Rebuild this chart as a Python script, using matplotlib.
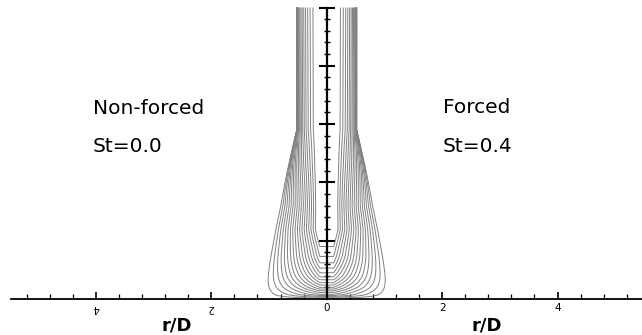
import numpy as np
import matplotlib
matplotlib.use("Agg")
import matplotlib.pyplot as plt
from matplotlib.ticker import FixedLocator, FixedFormatter

# ---- data ----
levels = [0.05, 0.10, 0.15, 0.20, 0.25, 0.30, 0.35, 0.40, 0.45,
          0.50, 0.55, 0.60, 0.65, 0.70, 0.75, 0.80, 0.85, 0.90]
# height (y/D) where each level's U-shaped contour closes on the axis
u_bottom_y = [0.015, 0.03, 0.045, 0.06, 0.08, 0.11, 0.14, 0.17, 0.20,
              0.24, 0.28, 0.33, 0.38, 0.45, 0.53, 0.62, 0.73, 0.90]
# outer edge of the jet (r/D) vs height
edge_y = [0.0, 0.3, 2.9, 5.0]
edge_r = [1.20, 1.14, 0.52, 0.52]
# inner (core) edge
core_r = 0.12
# profile shape exponent vs height
shape_y = [0.0, 1.6, 2.3, 2.9, 5.0]
shape_p = [1.2, 1.0, 0.6, 0.32, 0.30]

xtick_pos = [-4, -2, 0, 2, 4]
xtick_lab = ["4", "2", "0", "2", "4"]

# ---- figure ----
W_PX, H_PX = 642, 335
fig = plt.figure(figsize=(W_PX / 100, H_PX / 100), dpi=100)
sx = 57.7   # px per unit, horizontal
sy = 58.3   # px per unit, vertical
x0_px = 326.7
ybase_px = 299
ytop = 5.05
ax = fig.add_axes([0, (H_PX - ybase_px) / H_PX, 1, ytop * sy / H_PX])
ax.set_xlim(-x0_px / sx, (W_PX - x0_px) / sx)
ax.set_ylim(0, ytop)

# field
r = np.linspace(-1.7, 1.7, 1201)
y = np.linspace(0, 5.0, 801)
R, Y = np.meshgrid(r, y)
b = np.interp(Y, edge_y, edge_r)
p = np.interp(Y, shape_y, shape_p)
s = np.clip((np.abs(R) - core_r) / (b - core_r), 0, 1)
P = (1 - s) ** p
Wf = np.interp(Y, [0.0] + u_bottom_y + [1.2], [0.0] + levels + [1.0])
F = Wf * P
ax.contour(R, Y, F, levels=levels, colors="0.5", linewidths=0.7)

# spines
for sp in ["top", "right"]:
    ax.spines[sp].set_visible(False)
ax.spines["left"].set_position(("data", 0))
ax.spines["left"].set_bounds(0, 5)
ax.spines["left"].set_linewidth(1.6)
ax.spines["bottom"].set_bounds(-5.47, (W_PX - x0_px) / sx)
ax.spines["bottom"].set_linewidth(1.3)

ax.yaxis.set_major_locator(FixedLocator([1, 2, 3, 4, 5]))
ax.yaxis.set_minor_locator(FixedLocator([v / 5 for v in range(1, 25) if v % 5]))
ax.tick_params(axis="y", which="major", direction="inout", length=11.5, width=1.5, labelleft=False)
ax.tick_params(axis="y", which="minor", direction="inout", length=5, width=1.0)

ax.xaxis.set_major_locator(FixedLocator(xtick_pos))
ax.xaxis.set_major_formatter(FixedFormatter(xtick_lab))
ax.xaxis.set_minor_locator(FixedLocator([k * 0.4 for k in range(-13, 14) if k % 5]))
ax.tick_params(axis="x", which="major", direction="in", length=5, width=1.2,
               labelsize=7.5, pad=3)
ax.tick_params(axis="x", which="minor", direction="in", length=3.3, width=0.9)
for v, lab in zip(xtick_pos, ax.get_xticklabels()):
    if v < 0:
        lab.set_rotation(180)

# texts
fs = 14.5
fig.text(93 / W_PX, (H_PX - 114) / H_PX, "Non-forced", fontsize=fs, va="baseline", ha="left")
fig.text(93 / W_PX, (H_PX - 152) / H_PX, "St=0.0", fontsize=fs, va="baseline", ha="left")
fig.text(443 / W_PX, (H_PX - 113) / H_PX, "Forced", fontsize=fs, va="baseline", ha="left")
fig.text(443 / W_PX, (H_PX - 152) / H_PX, "St=0.4", fontsize=fs, va="baseline", ha="left")
fig.text(177 / W_PX, (H_PX - 325) / H_PX, "r/D", fontsize=13, fontweight="bold", ha="center", va="center")
fig.text(487 / W_PX, (H_PX - 325) / H_PX, "r/D", fontsize=13, fontweight="bold", ha="center", va="center")

fig.savefig("out.png", dpi=100)
